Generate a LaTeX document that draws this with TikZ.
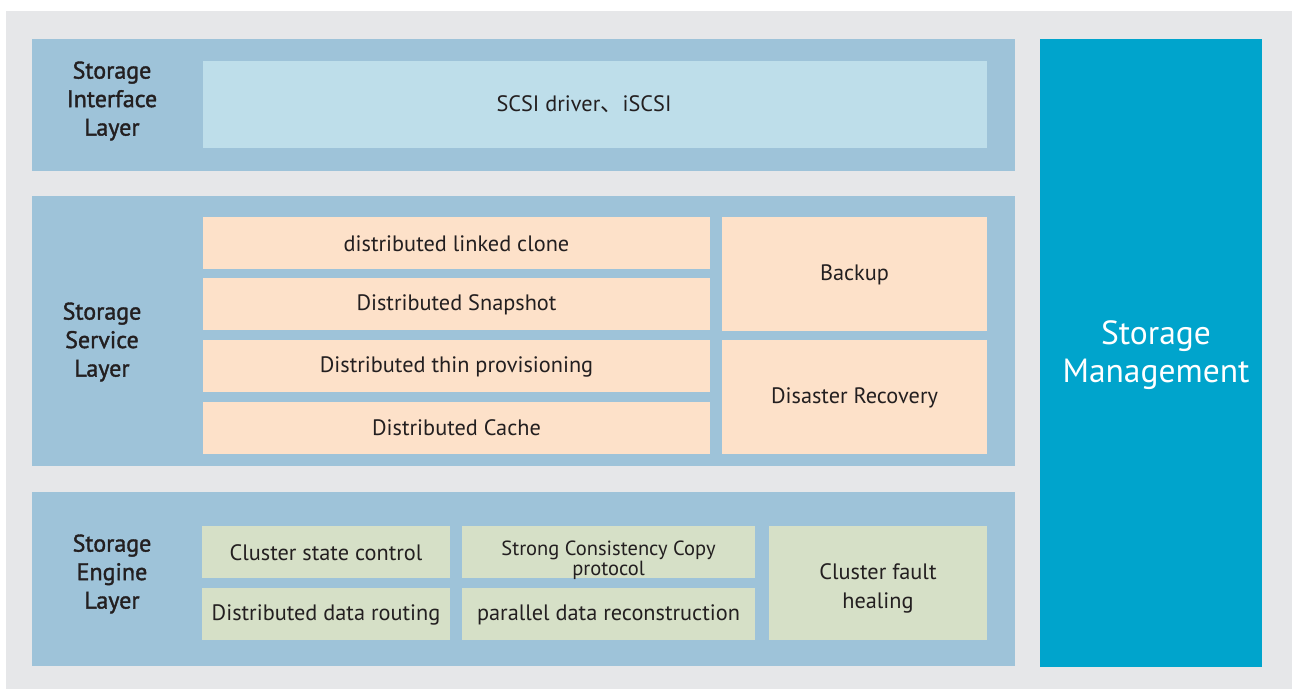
\documentclass[tikz,border=0pt]{standalone}
\usepackage{fontspec}
\setmainfont{PT Sans}
\newfontfamily\cjk{Noto Sans CJK SC}
\newfontfamily\lblfont[FakeBold=1.5]{PT Sans}
\definecolor{bggray}{HTML}{E6E7E9}
\definecolor{layerblue}{HTML}{9EC3D9}
\definecolor{ifblue}{HTML}{BEDEEA}
\definecolor{svcorange}{HTML}{FDE1C9}
\definecolor{enggreen}{HTML}{D6E0C7}
\definecolor{mgmtblue}{HTML}{00A4CC}
\definecolor{txt}{HTML}{231F20}
\tikzset{
  layerbox/.style={fill=layerblue},
  itembox/.style={inner sep=0pt, align=center, text=txt, font=\fontsize{22.3}{26}\selectfont},
  laytext/.style={align=center, text=txt, inner sep=0pt, font=\lblfont\fontsize{24}{28.5}\selectfont},
}
\begin{document}
\begin{tikzpicture}[x=1pt,y=-1pt]
\useasboundingbox (0,0) rectangle (1292,689);
\fill[white] (0,0) rectangle (1292,689);
\fill[bggray] (6,11) rectangle (1292,689);
% layers
\fill[layerbox] (32,39) rectangle (1015,170.5);
\fill[layerbox] (32,196) rectangle (1015,465.5);
\fill[layerbox] (32,492) rectangle (1015,665.5);
% interface
\fill[ifblue] (203,61) rectangle (987,147.5);
\node[itembox] (scsi) at (584,104) {SCSI driver{\cjk 、}iSCSI};
\node[laytext] (lif) at (112,101) {Storage\\Interface\\Layer};
% service
\foreach \t/\b [count=\i] in {217/268.5,278/329.5,340/391.5,402/453.5}{
  \fill[svcorange] (203,\t) rectangle (710,\b);
}
\node[itembox] (s1) at (456.5,243.5) {distributed linked clone};
\node[itembox] (s2) at (456.5,305) {Distributed Snapshot};
\node[itembox] (s3) at (456.5,366.5) {Distributed thin provisioning};
\node[itembox] (s4) at (456.5,428) {Distributed Cache};
\fill[svcorange] (722,217) rectangle (987,330.5);
\fill[svcorange] (722,340) rectangle (987,453.5);
\node[itembox] (bk) at (854.5,274.5) {Backup};
\node[itembox] (dr) at (854.5,398) {Disaster Recovery};
\node[laytext] (lsv) at (102,342) {Storage\\Service\\Layer};
% engine
\fill[enggreen] (202,526) rectangle (450,577.5);
\fill[enggreen] (202,587.5) rectangle (450,639.5);
\fill[enggreen] (462,526) rectangle (755,577.5);
\fill[enggreen] (462,587.5) rectangle (755,639.5);
\fill[enggreen] (769,526) rectangle (987,639.5);
\node[itembox] (e1) at (326,552.5) {Cluster state control};
\node[itembox] (e2) at (326,614.5) {Distributed data routing};
\node[itembox, font=\fontsize{20.5}{20.5}\selectfont] (e3) at (608.5,560) {Strong Consistency Copy\\protocol};
\node[itembox] (e4) at (608.5,614.5) {parallel data reconstruction};
\node[itembox, font=\fontsize{22.3}{29}\selectfont] (e5) at (878,588.5) {Cluster fault\\healing};
\node[laytext] (len) at (112,574) {Storage\\Engine\\Layer};
% management
\fill[mgmtblue] (1040,39) rectangle (1262,666.5);
\node[align=center, text=white, inner sep=0pt, font=\fontsize{33.5}{37.5}\selectfont] (mg) at (1156,355) {Storage\\Management};
\end{tikzpicture}
\end{document}
